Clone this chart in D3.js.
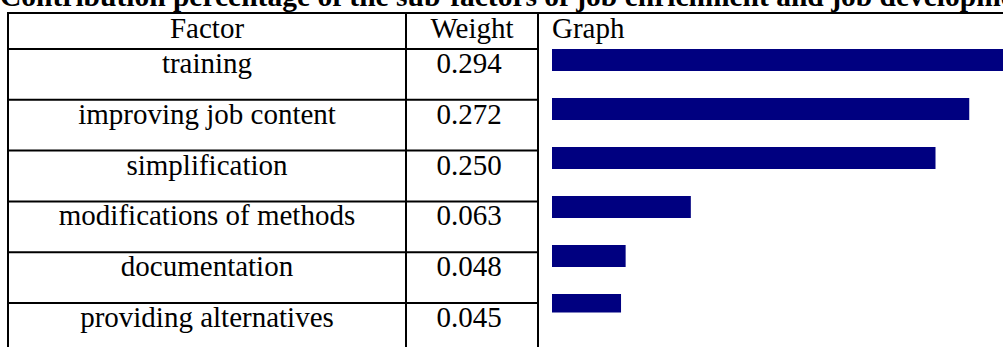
<!DOCTYPE html>
<html>
<head>
<meta charset="utf-8">
<script src="https://cdn.jsdelivr.net/npm/d3@7"></script>
<style>
  html, body { margin: 0; padding: 0; background: #fff; overflow: hidden; }
  svg { display: block; }
  text { font-family: "Liberation Serif", "Times New Roman", serif; fill: #000; }
</style>
</head>
<body>
<svg id="chart" width="1003" height="347"></svg>
<script>
// ---- data ----
const title = "Contribution percentage of the sub-factors of job enrichment and job development";
const headers = ["Factor", "Weight", "Graph"];
const factors = ["training", "improving job content", "simplification", "modifications of methods", "documentation", "providing alternatives"];
const weights = ["0.294", "0.272", "0.250", "0.063", "0.048", "0.045"];
// bar lengths as drawn in the graph column
const barLengths = [0.294, 0.272, 0.250, 0.0905, 0.048, 0.045];

// ---- layout ----
const W = 1003, H = 347;
const svg = d3.select("#chart");
const colX = [8, 406, 538];       // left edges of the three columns
const tableTop = 13, headerBottom = 49, rowH = 50.8;
const fontSize = 29;

// row scale: index -> top y
const rowY = d3.scaleLinear().domain([0, 1]).range([headerBottom, headerBottom + rowH]);

// title
svg.append("text")
  .attr("x", 0).attr("y", 6)
  .attr("font-size", 29.5).attr("font-weight", "bold")
  .text(title);

// header texts
svg.append("text").attr("x", (colX[0] + colX[1]) / 2).attr("y", 38)
  .attr("text-anchor", "middle").attr("font-size", fontSize).text(headers[0]);
svg.append("text").attr("x", (colX[1] + colX[2]) / 2).attr("y", 38)
  .attr("text-anchor", "middle").attr("font-size", fontSize).text(headers[1]);
svg.append("text").attr("x", 552).attr("y", 38)
  .attr("font-size", fontSize).text(headers[2]);

// row texts
const rows = svg.append("g").selectAll("g").data(factors).join("g");
rows.append("text")
  .attr("x", (colX[0] + colX[1]) / 2)
  .attr("y", (d, i) => rowY(i) + 24)
  .attr("text-anchor", "middle").attr("font-size", fontSize)
  .text(d => d);
rows.append("text")
  .attr("x", (colX[1] + colX[2]) / 2 - 3)
  .attr("y", (d, i) => rowY(i) + 24)
  .attr("text-anchor", "middle").attr("font-size", fontSize)
  .text((d, i) => weights[i]);

// grid lines
const lines = svg.append("g").attr("stroke", "#000").attr("stroke-width", 2);
lines.append("line").attr("x1", colX[0] - 1).attr("x2", W).attr("y1", tableTop).attr("y2", tableTop);
colX.forEach(x => lines.append("line").attr("x1", x).attr("x2", x).attr("y1", tableTop).attr("y2", H));
d3.range(factors.length).forEach(i => {
  lines.append("line").attr("x1", colX[0]).attr("x2", colX[2])
    .attr("y1", rowY(i)).attr("y2", rowY(i));
});

// bars
const x = d3.scaleLinear().domain([0, 0.294]).range([552, 1003]);
const y = d3.scaleBand().domain(factors).range([49, 316]).paddingInner(0.551).paddingOuter(0);

svg.append("defs").append("clipPath").attr("id", "graphClip")
  .append("rect").attr("x", colX[2] + 1).attr("y", tableTop + 1)
  .attr("width", W - colX[2]).attr("height", 312.5 - tableTop - 1);

svg.append("g").attr("clip-path", "url(#graphClip)")
  .selectAll("rect").data(factors).join("rect")
  .attr("x", x(0))
  .attr("y", d => y(d))
  .attr("width", (d, i) => x(barLengths[i]) - x(0))
  .attr("height", y.bandwidth())
  .attr("fill", "#000080");
</script>
</body>
</html>
